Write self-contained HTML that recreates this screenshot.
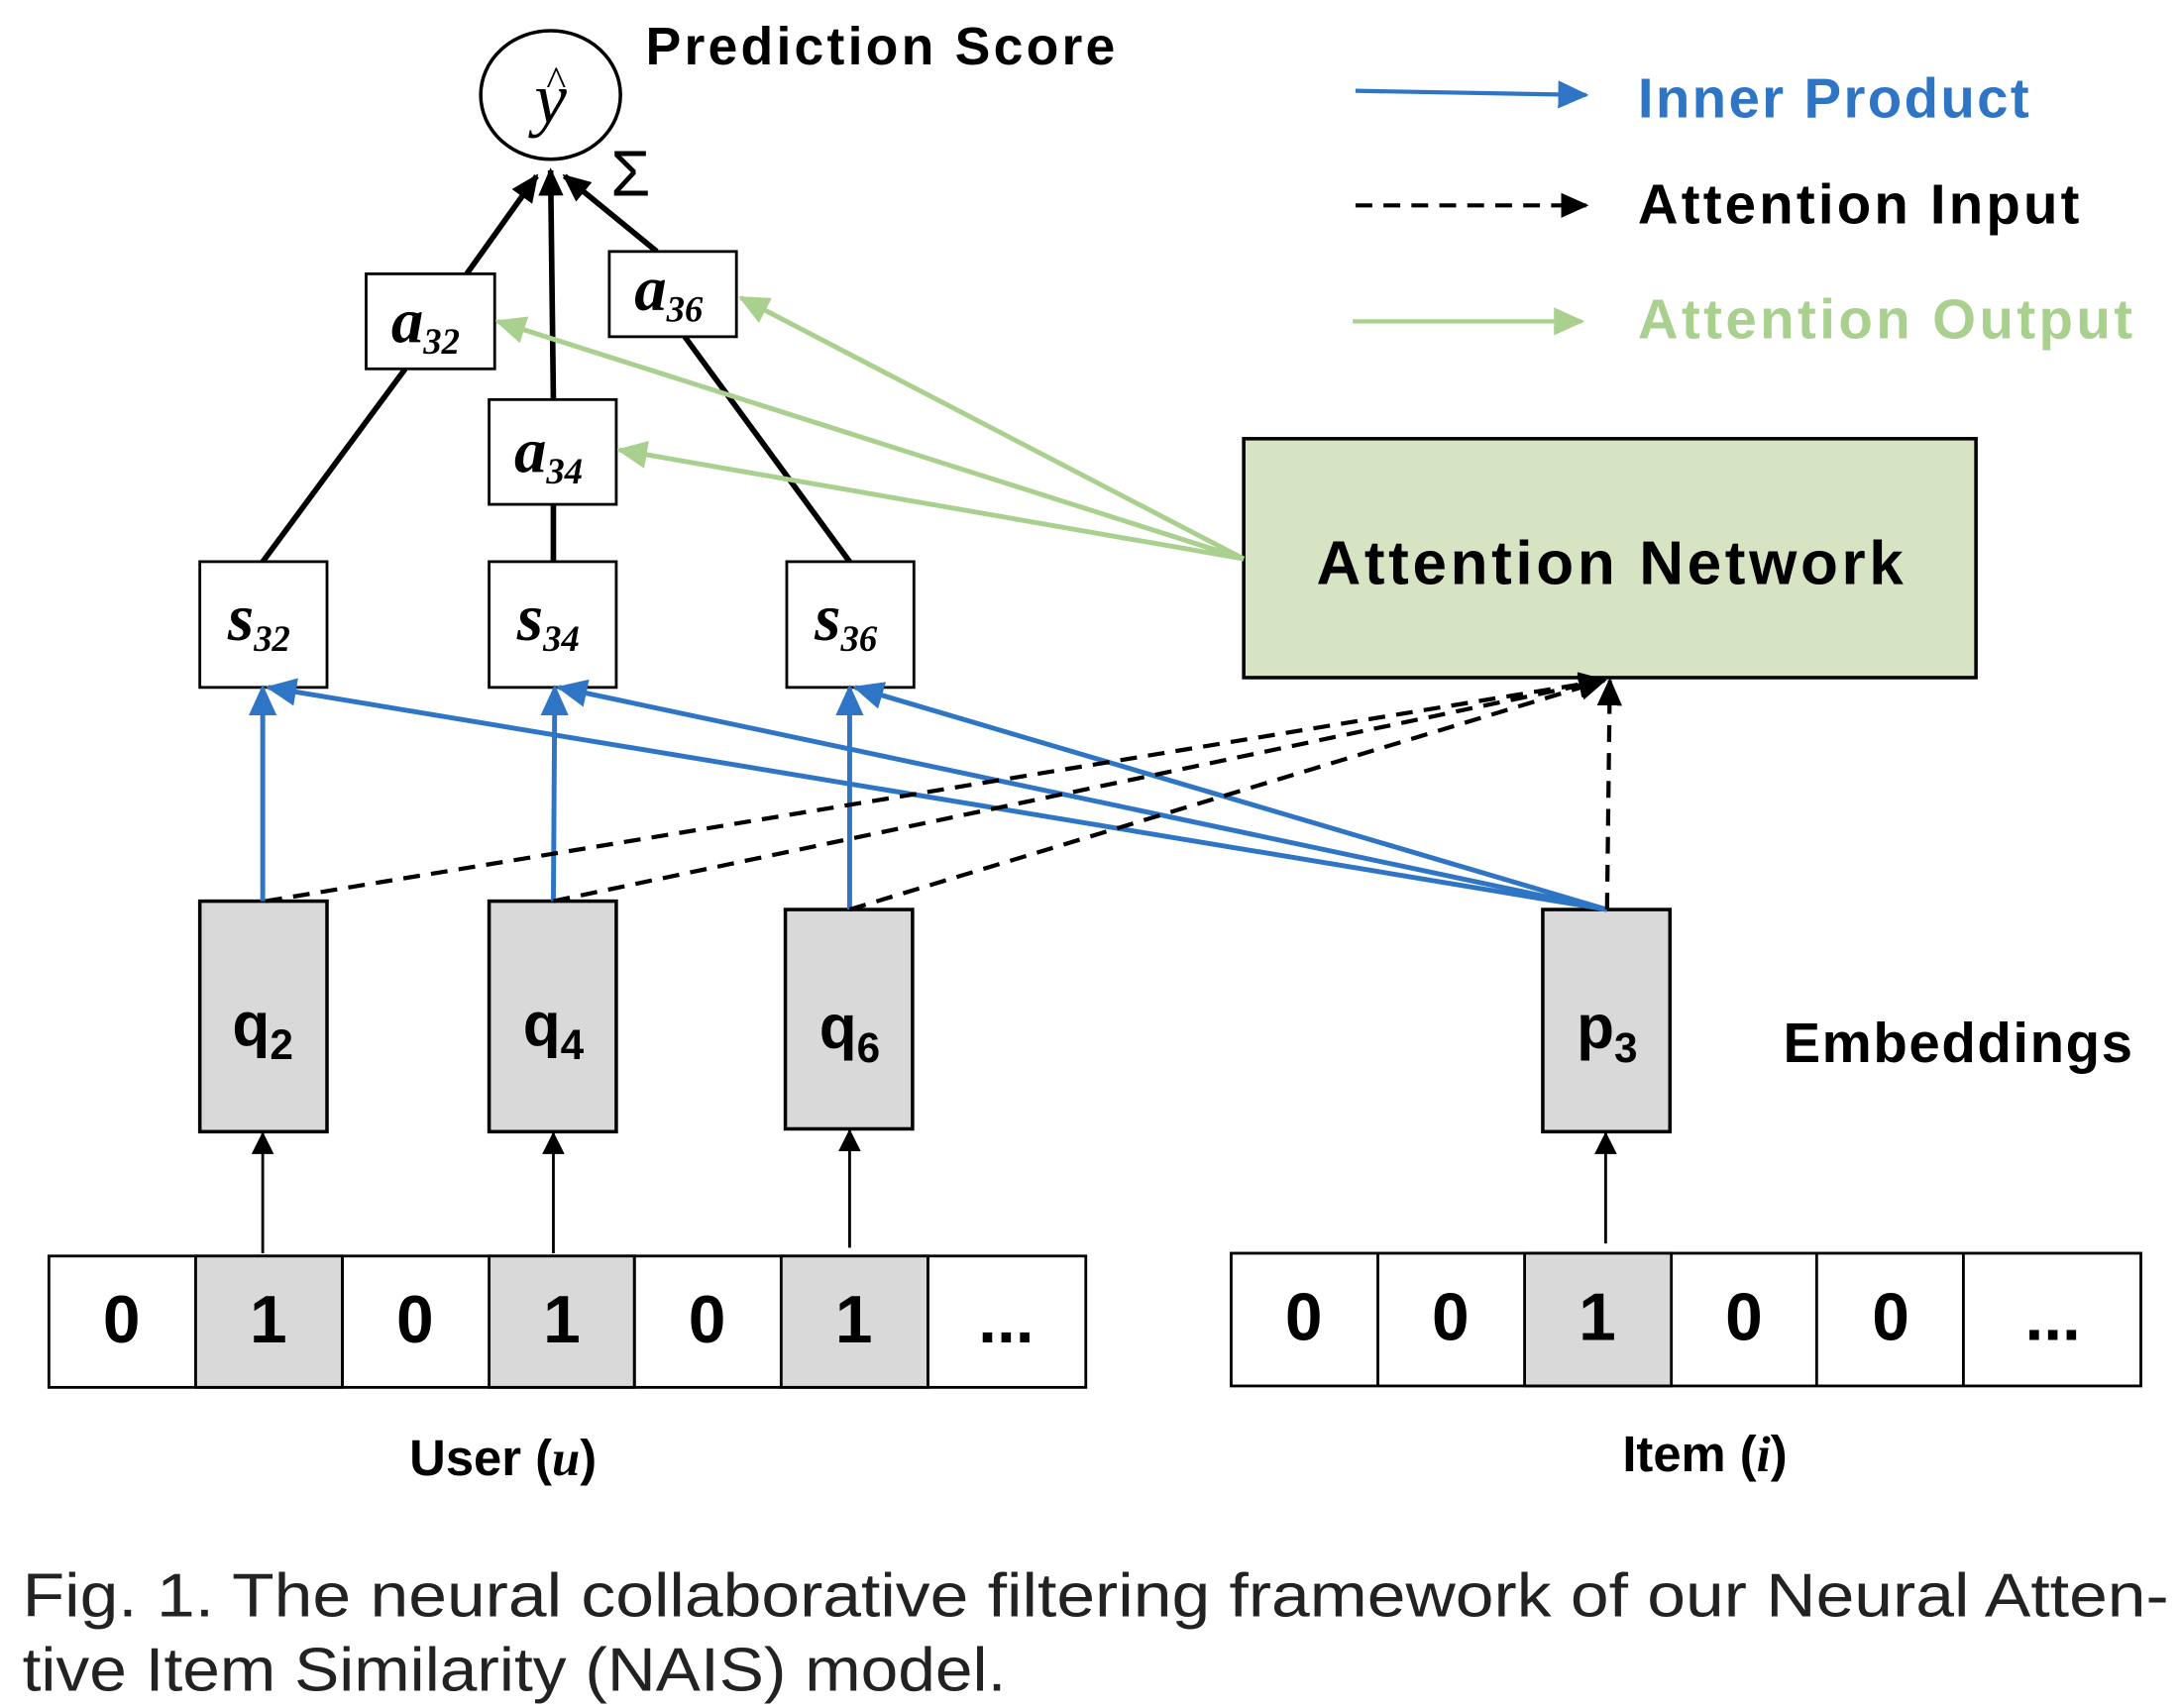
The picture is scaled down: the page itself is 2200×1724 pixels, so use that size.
<!DOCTYPE html>
<html><head><meta charset="utf-8"><style>
html,body{margin:0;padding:0;background:#fff;}
svg{display:block;}
.c{font-family:"Liberation Sans",sans-serif;font-weight:bold;}
</style></head><body>
<svg width="2200" height="1724" viewBox="0 0 1560 1222.5" preserveAspectRatio="none" xmlns="http://www.w3.org/2000/svg">
<defs>
<marker id="abl" markerWidth="22" markerHeight="20" refX="20" refY="10" orient="auto" markerUnits="userSpaceOnUse"><path d="M0,0 L22,10 L0,20 z" fill="#2e75c6"/></marker>
<marker id="ag" markerWidth="22" markerHeight="20" refX="20" refY="10" orient="auto" markerUnits="userSpaceOnUse"><path d="M0,0 L22,10 L0,20 z" fill="#a9d08e"/></marker>
<marker id="ak" markerWidth="20" markerHeight="18" refX="18" refY="9" orient="auto" markerUnits="userSpaceOnUse"><path d="M0,0 L20,9 L0,18 z" fill="#000"/></marker>
<marker id="aks" markerWidth="16" markerHeight="16" refX="15" refY="8" orient="auto" markerUnits="userSpaceOnUse"><path d="M0,0 L16,8 L0,16 z" fill="#000"/></marker>
</defs>

<ellipse cx="394" cy="68" rx="50" ry="46" fill="#fff" stroke="#000" stroke-width="2.5"/>
<text x="394" y="88" font-family="Liberation Serif,serif" font-style="italic" font-size="52" text-anchor="middle">y</text>
<text x="398" y="68" font-family="Liberation Serif,serif" font-size="30" text-anchor="middle">^</text>
<text x="462" y="46" class="c" font-size="38" textLength="336">Prediction Score</text>
<text x="437" y="140" font-family="Liberation Sans,sans-serif" font-size="46">Σ</text>

<g stroke="#000" stroke-width="4" fill="none">
<line x1="188" y1="402" x2="290" y2="264"/>
<line x1="334" y1="196" x2="384" y2="126" marker-end="url(#ak)"/>
<line x1="396" y1="402" x2="396" y2="361"/>
<line x1="396" y1="286" x2="394" y2="122" marker-end="url(#ak)"/>
<line x1="608" y1="402" x2="490" y2="241"/>
<line x1="470" y1="180" x2="404" y2="126" marker-end="url(#ak)"/>
</g>

<g fill="#fff" stroke="#000" stroke-width="2">
<rect x="262" y="196" width="92" height="68"/>
<rect x="350" y="286" width="91" height="75"/>
<rect x="436" y="180" width="91" height="61"/>
<rect x="143" y="402" width="91" height="90"/>
<rect x="350" y="402" width="91" height="90"/>
<rect x="563" y="402" width="91" height="90"/>
</g>
<g font-family="Liberation Serif,serif" font-weight="bold" font-style="italic">
<text x="280" y="245" font-size="46">a<tspan font-size="26" dy="8">32</tspan></text>
<text x="368" y="338" font-size="46">a<tspan font-size="26" dy="8">34</tspan></text>
<text x="454" y="222" font-size="46">a<tspan font-size="26" dy="8">36</tspan></text>
<text x="163" y="458" font-size="48">s<tspan font-size="26" dy="8">32</tspan></text>
<text x="370" y="458" font-size="48">s<tspan font-size="26" dy="8">34</tspan></text>
<text x="583" y="458" font-size="48">s<tspan font-size="26" dy="8">36</tspan></text>
</g>

<rect x="890" y="314" width="524" height="171" fill="#d6e4c4" stroke="#000" stroke-width="2.5"/>
<text x="1152" y="418" class="c" font-size="44" text-anchor="middle" textLength="420">Attention Network</text>

<g stroke="#a9d08e" stroke-width="3.5" fill="none">
<line x1="890" y1="400" x2="530" y2="213" marker-end="url(#ag)"/>
<line x1="890" y1="400" x2="356" y2="230" marker-end="url(#ag)"/>
<line x1="890" y1="400" x2="443" y2="322" marker-end="url(#ag)"/>
</g>

<g fill="#d9d9d9" stroke="#000" stroke-width="2.5">
<rect x="143" y="645" width="91" height="165"/>
<rect x="350" y="645" width="91" height="165"/>
<rect x="562" y="651" width="91" height="157"/>
<rect x="1104" y="651" width="91" height="159"/>
</g>
<g class="c" font-size="44" text-anchor="middle">
<text x="188" y="748">q<tspan font-size="30" dy="10">2</tspan></text>
<text x="396" y="748">q<tspan font-size="30" dy="10">4</tspan></text>
<text x="608" y="750">q<tspan font-size="30" dy="10">6</tspan></text>
<text x="1150" y="750">p<tspan font-size="30" dy="10">3</tspan></text>
</g>
<text x="1276" y="760" class="c" font-size="40" textLength="250">Embeddings</text>

<g stroke="#2e75c6" stroke-width="3.5" fill="none">
<line x1="188" y1="645" x2="188" y2="492" marker-end="url(#abl)"/>
<line x1="396" y1="645" x2="397" y2="492" marker-end="url(#abl)"/>
<line x1="608" y1="651" x2="608" y2="492" marker-end="url(#abl)"/>
<line x1="1150" y1="651" x2="192" y2="492" marker-end="url(#abl)"/>
<line x1="1150" y1="651" x2="400" y2="492" marker-end="url(#abl)"/>
<line x1="1150" y1="651" x2="612" y2="492" marker-end="url(#abl)"/>
</g>

<g stroke="#000" stroke-width="3" fill="none" stroke-dasharray="12,8">
<line x1="190" y1="645" x2="1148" y2="487" marker-end="url(#ak)"/>
<line x1="396" y1="645" x2="1148" y2="487" marker-end="url(#ak)"/>
<line x1="608" y1="651" x2="1148" y2="487" marker-end="url(#ak)"/>
<line x1="1150" y1="651" x2="1152" y2="487" marker-end="url(#ak)"/>
</g>

<g stroke="#000" stroke-width="2" fill="none">
<line x1="188" y1="897" x2="188" y2="811" marker-end="url(#aks)"/>
<line x1="396" y1="897" x2="396" y2="811" marker-end="url(#aks)"/>
<line x1="608" y1="893" x2="608" y2="809" marker-end="url(#aks)"/>
<line x1="1149" y1="890" x2="1149" y2="811" marker-end="url(#aks)"/>
</g>

<g stroke="#000" stroke-width="2">
<rect x="35" y="899" width="742" height="94" fill="#fff"/>
<rect x="140" y="899" width="105" height="94" fill="#d9d9d9"/>
<rect x="350" y="899" width="104" height="94" fill="#d9d9d9"/>
<rect x="559" y="899" width="105" height="94" fill="#d9d9d9"/>
<line x1="245" y1="899" x2="245" y2="993"/>
<line x1="454" y1="899" x2="454" y2="993"/>
<line x1="664" y1="899" x2="664" y2="993"/>
<rect x="881" y="897" width="651" height="95" fill="#fff"/>
<rect x="1091" y="897" width="105" height="95" fill="#d9d9d9"/>
<line x1="986" y1="897" x2="986" y2="992"/>
<line x1="1300" y1="897" x2="1300" y2="992"/>
<line x1="1405" y1="897" x2="1405" y2="992"/>
</g>
<g class="c" font-size="48" text-anchor="middle">
<text x="87" y="961">0</text><text x="192" y="961">1</text><text x="297" y="961">0</text>
<text x="402" y="961">1</text><text x="506" y="961">0</text><text x="611" y="961">1</text>
<text x="720" y="961">...</text>
<text x="933" y="959">0</text><text x="1038" y="959">0</text><text x="1143" y="959">1</text>
<text x="1248" y="959">0</text><text x="1353" y="959">0</text><text x="1469" y="959">...</text>
</g>
<text x="360" y="1056" class="c" font-size="36" text-anchor="middle">User (<tspan font-family="Liberation Serif,serif" font-style="italic">u</tspan>)</text>
<text x="1220" y="1053" class="c" font-size="36" text-anchor="middle">Item (<tspan font-family="Liberation Serif,serif" font-style="italic">i</tspan>)</text>

<line x1="970" y1="65" x2="1135" y2="68" stroke="#2e75c6" stroke-width="3" marker-end="url(#abl)"/>
<text x="1172" y="84" class="c" font-size="40" fill="#2e75c6" textLength="280">Inner Product</text>
<line x1="970" y1="147" x2="1135" y2="147" stroke="#000" stroke-width="3" stroke-dasharray="12,8" marker-end="url(#ak)"/>
<text x="1172" y="160" class="c" font-size="40" textLength="316">Attention Input</text>
<line x1="968" y1="230" x2="1132" y2="230" stroke="#a9d08e" stroke-width="3" marker-end="url(#ag)"/>
<text x="1172" y="242" class="c" font-size="40" fill="#a9d08e" textLength="354">Attention Output</text>

<text x="16" y="1157" font-family="Liberation Sans,sans-serif" font-size="44" fill="#222" textLength="1536" lengthAdjust="spacingAndGlyphs">Fig. 1. The neural collaborative filtering framework of our Neural Atten-</text>
<text x="16" y="1210" font-family="Liberation Sans,sans-serif" font-size="44" fill="#222" textLength="704" lengthAdjust="spacingAndGlyphs">tive Item Similarity (NAIS) model.</text>
</svg>
</body></html>
